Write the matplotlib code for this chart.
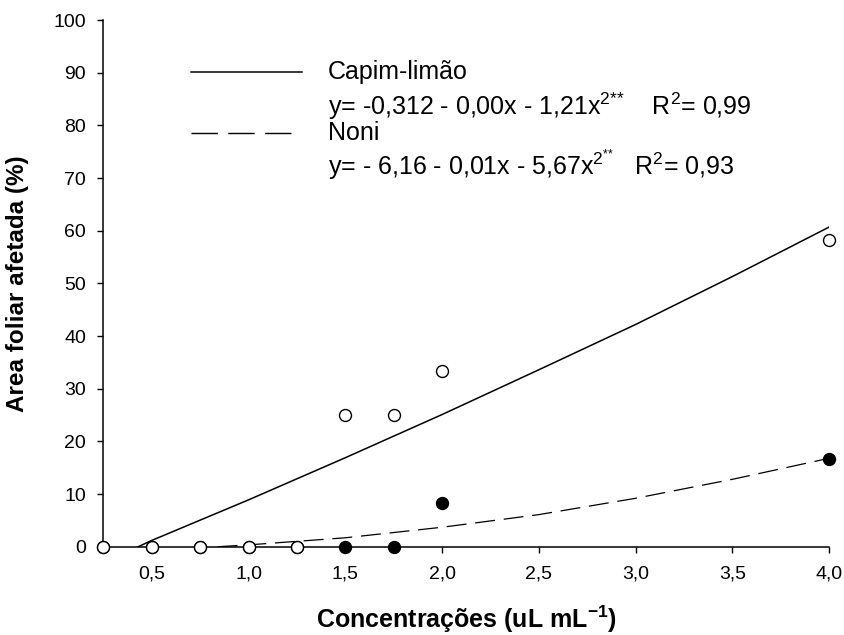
import matplotlib
matplotlib.use("Agg")
import matplotlib.pyplot as plt

plt.rcParams['font.family'] = ['Liberation Sans', 'DejaVu Sans']
plt.rcParams['mathtext.fontset'] = 'custom'
plt.rcParams['mathtext.rm'] = 'Liberation Sans'
plt.rcParams['mathtext.it'] = 'Liberation Sans'
plt.rcParams['mathtext.bf'] = 'Liberation Sans:bold'
plt.rcParams['mathtext.default'] = 'regular'

# observed points
conc = [0.25, 0.5, 0.75, 1.0, 1.25, 1.5, 1.75, 2.0, 4.0]
capim = [0, 0, 0, 0, 0, 25.0, 25.0, 33.3, 58.3]
noni = [0, 0, 0, 0, 0, 0, 0, 8.3, 16.7]

# fitted curves
capim_fit_x = [0.43, 0.5, 1.0, 1.5, 2.0, 2.5, 3.0, 3.5, 4.0]
capim_fit_y = [0.0, 1.2, 8.9, 16.9, 25.1, 33.6, 42.2, 51.3, 60.7]
noni_fit_x = [0.84, 1.0, 1.5, 2.0, 2.5, 3.0, 3.5, 4.0]
noni_fit_y = [0.0, 0.35, 1.7, 3.7, 6.1, 9.2, 12.8, 16.8]

xticks = [0.5, 1.0, 1.5, 2.0, 2.5, 3.0, 3.5, 4.0]
xticklabels = ["0,5", "1,0", "1,5", "2,0", "2,5", "3,0", "3,5", "4,0"]
yticks = [0, 10, 20, 30, 40, 50, 60, 70, 80, 90, 100]

fig = plt.figure(figsize=(8.44, 6.35), dpi=100)
ax = fig.add_axes([0.1225, 0.139, 0.86, 0.8295])

ax.plot(capim_fit_x, capim_fit_y, color='black', lw=1.1)
ax.plot(noni_fit_x, noni_fit_y, color='black', lw=0.9, dashes=(16, 7))

ax.plot(conc, noni, 'o', ms=8.6, mfc='black', mec='black', mew=1, clip_on=False, zorder=3)
ax.plot(conc, capim, 'o', ms=8.6, mfc='white', mec='black', mew=1, clip_on=False, zorder=4)

ax.set_xlim(0.25, 4.0)
ax.set_ylim(0, 100)
ax.set_xticks(xticks)
ax.set_xticklabels(xticklabels)
ax.set_yticks(yticks)
ax.tick_params(direction='out', length=4.5, width=1, labelsize=14)
ax.tick_params(axis='x', pad=9)
ax.tick_params(axis='y', pad=8)
for s in ['top', 'right']:
    ax.spines[s].set_visible(False)
for s in ['left', 'bottom']:
    ax.spines[s].set_linewidth(1.1)

ax.set_xlabel("Concentrações (uL mL$^{-1}$)", fontsize=18, fontweight='bold')
ax.set_ylabel("Area foliar afetada (%)", fontsize=17.5, fontweight='bold')
ax.xaxis.set_label_coords(0.5, -0.108)
ax.yaxis.set_label_coords(-0.102, 0.5)

# legend drawn by hand
ax.plot([0.705, 1.274], [90.1, 90.1], color='black', lw=1.1)
ax.plot([0.705, 1.222], [78.5, 78.5], color='black', lw=1.0, dashes=(19, 7.5))
tx = 1.409
fs = 18
ax.text(tx, 90.1, "Capim-limão", fontsize=fs, va='center')
ax.text(tx, 83.6, "y= -0,312 - 0,00x - 1,21x$^{2{*}{*}}$    R$^{2}$= 0,99", fontsize=fs, va='center')
ax.text(tx, 78.5, "Noni", fontsize=fs, va='center')
ax.text(tx, 72.6, "y= - 6,16 - 0,01x - 5,67x$^{2^{{*}{*}}}$   R$^{2}$= 0,93", fontsize=fs, va='center')

fig.savefig("out.png", dpi=100)
